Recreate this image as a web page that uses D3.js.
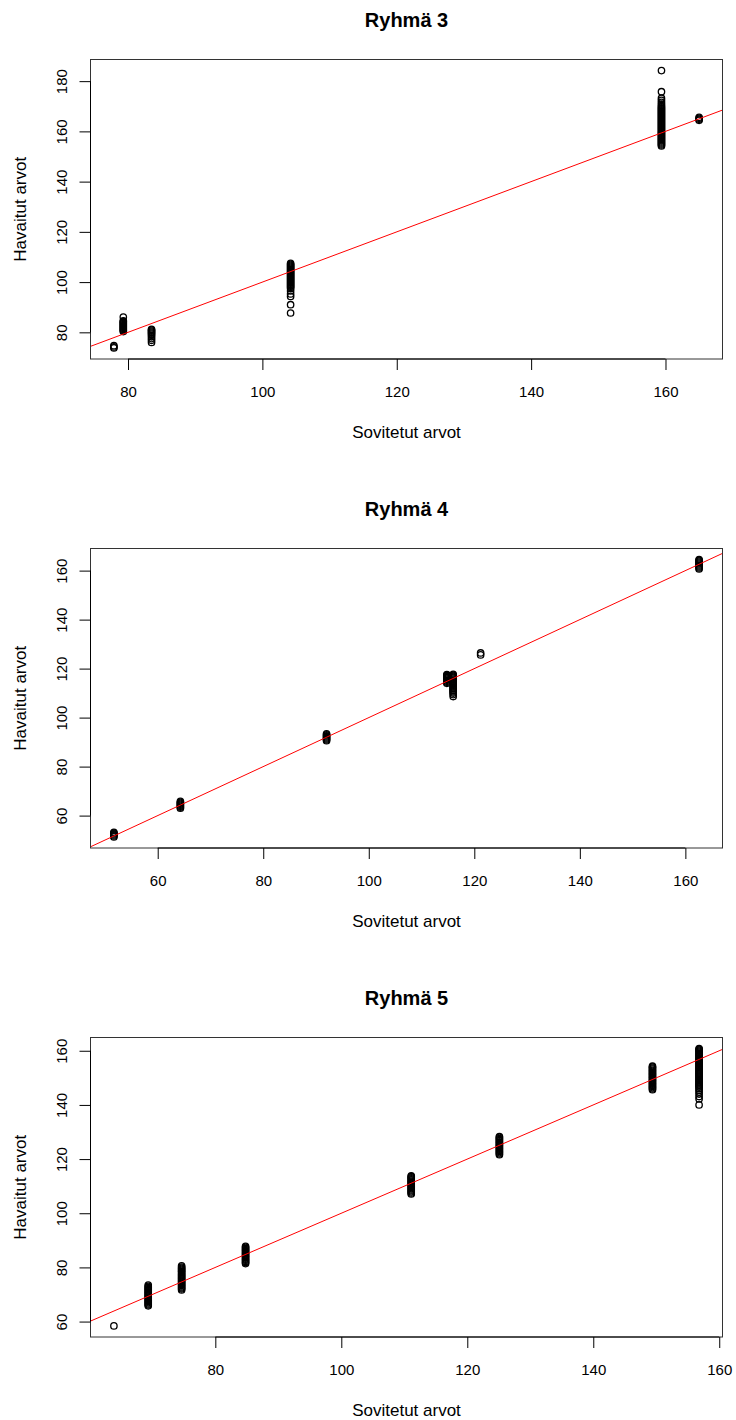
<!DOCTYPE html>
<html>
<head>
<meta charset="utf-8">
<script src="https://cdn.jsdelivr.net/npm/d3@7"></script>
<style>
  body { margin: 0; background: #fff; }
  svg { display: block; }
  text { font-family: "Liberation Sans", Arial, sans-serif; fill: #000; }
</style>
</head>
<body>
<svg id="chart" width="736" height="1420"></svg>
<script>
// Ryhmä 3
const g3Fitted = [77.9, 79.3, 83.5, 104.2, 159.4, 165.0];
const g3Observed = [
    [73.8, 74.2, 74.7],
    [80.3, 80.7, 81.1, 81.5, 81.9, 82.3, 82.7, 83.1, 83.5, 83.9, 84.3, 84.6, 86.1],
    [76.0, 76.8, 77.5, 78.2, 78.8, 79.3, 79.7, 80.1, 80.5, 80.9, 81.2],
    [87.7, 91.0, 94.3, 95.3, 96.5, 97.5, 97.9, 98.3, 98.7, 99.1, 99.5, 99.9, 100.3, 100.7, 101.1, 101.5, 101.9, 102.3, 102.7, 103.1, 103.5, 103.9, 104.3, 104.7, 105.1, 105.5, 105.9, 106.3, 106.7, 107.1, 107.5],
    [154.2, 154.6, 155.0, 155.4, 155.8, 156.2, 156.6, 157.0, 157.4, 157.8, 158.2, 158.6, 159.0, 159.4, 159.8, 160.2, 160.6, 161.0, 161.4, 161.8, 162.2, 162.6, 163.0, 163.4, 163.8, 164.2, 164.6, 165.0, 165.4, 165.8, 166.2, 166.6, 167.0, 167.4, 167.8, 168.2, 168.6, 169.0, 169.4, 169.8, 170.3, 170.9, 171.6, 172.4, 173.2, 175.8, 184.2],
    [164.4, 164.8, 165.2, 165.6]
];
const g3XTicks = [80, 100, 120, 140, 160];
const g3YTicks = [80, 100, 120, 140, 160, 180];

// Ryhmä 4
const g4Fitted = [51.7, 64.3, 92.0, 114.8, 116.0, 121.2, 162.6];
const g4Observed = [
    [51.3, 51.7, 52.1, 52.5, 52.9, 53.2],
    [63.0, 63.4, 63.8, 64.2, 64.6, 65.0, 65.4, 65.8],
    [90.6, 91.0, 91.4, 91.8, 92.2, 92.6, 93.0, 93.4],
    [114.0, 114.4, 114.8, 115.2, 115.6, 116.0, 116.4, 116.8, 117.2, 117.6],
    [108.6, 109.4, 110.0, 110.5, 110.9, 111.3, 111.7, 112.1, 112.5, 112.9, 113.3, 113.7, 114.1, 114.5, 114.9, 115.3, 115.7, 116.1, 116.5, 116.9, 117.3, 117.7],
    [125.6, 126.4],
    [160.7, 161.1, 161.5, 161.9, 162.3, 162.7, 163.1, 163.5, 163.9, 164.2, 164.5]
];
const g4XTicks = [60, 80, 100, 120, 140, 160];
const g4YTicks = [60, 80, 100, 120, 140, 160];

// Ryhmä 5
const g5Fitted = [63.9, 69.35, 74.65, 84.8, 111.1, 125.1, 149.4, 156.8];
const g5Observed = [
    [58.4],
    [65.8, 66.2, 66.6, 67.0, 67.4, 67.8, 68.2, 68.6, 69.0, 69.4, 69.8, 70.2, 70.6, 71.0, 71.4, 71.8, 72.2, 72.6, 73.0, 73.5],
    [71.7, 72.1, 72.5, 72.9, 73.3, 73.7, 74.1, 74.5, 74.9, 75.3, 75.7, 76.1, 76.5, 76.9, 77.3, 77.7, 78.1, 78.5, 78.9, 79.3, 79.7, 80.1, 80.6],
    [81.4, 81.8, 82.2, 82.6, 83.0, 83.4, 83.8, 84.2, 84.6, 85.0, 85.4, 85.8, 86.2, 86.6, 87.0, 87.4, 87.8],
    [107.1, 107.5, 107.9, 108.3, 108.7, 109.1, 109.5, 109.9, 110.3, 110.7, 111.1, 111.5, 111.9, 112.3, 112.7, 113.1, 113.5, 113.8],
    [121.6, 122.0, 122.4, 122.8, 123.2, 123.6, 124.0, 124.4, 124.8, 125.2, 125.6, 126.0, 126.4, 126.8, 127.2, 127.6, 128.0, 128.3],
    [145.6, 146.0, 146.4, 146.8, 147.2, 147.6, 148.0, 148.4, 148.8, 149.2, 149.6, 150.0, 150.4, 150.8, 151.2, 151.6, 152.0, 152.4, 152.8, 153.2, 153.6, 154.0, 154.3],
    [140.0, 142.2, 143.1, 144.0, 144.8, 145.5, 146.1, 146.6, 147.0, 147.4, 147.8, 148.2, 148.6, 149.0, 149.4, 149.8, 150.2, 150.6, 151.0, 151.4, 151.8, 152.2, 152.6, 153.0, 153.4, 153.8, 154.2, 154.6, 155.0, 155.4, 155.8, 156.2, 156.6, 157.0, 157.4, 157.8, 158.2, 158.6, 159.0, 159.4, 159.8, 160.2, 160.5, 160.8]
];
const g5XTicks = [80, 100, 120, 140, 160];
const g5YTicks = [60, 80, 100, 120, 140, 160];

const panels = [
    { title: 'Ryhmä 3', fitted: g3Fitted, observed: g3Observed, xTicks: g3XTicks, yTicks: g3YTicks, top: 59.5 },
    { title: 'Ryhmä 4', fitted: g4Fitted, observed: g4Observed, xTicks: g4XTicks, yTicks: g4YTicks, top: 548.5 },
    { title: 'Ryhmä 5', fitted: g5Fitted, observed: g5Observed, xTicks: g5XTicks, yTicks: g5YTicks, top: 1037.5 }
];

const svg = d3.select('#chart');
const left = 90.5;
const plotWidth = 632;
const plotHeight = 299.5;
const tickLen = 11;

// R:n tapaan 4 % lisätilaa kummallekin puolelle
function padded(ext) {
    const w = ext[1] - ext[0];
    return [ext[0] - 0.04 * w, ext[1] + 0.04 * w];
}

function drawPanel(p, idx) {
    const pts = [];
    p.fitted.forEach((f, i) => p.observed[i].forEach(o => pts.push([f, o])));

    const x = d3.scaleLinear().domain(padded(d3.extent(pts, d => d[0]))).range([0, plotWidth]);
    const y = d3.scaleLinear().domain(padded(d3.extent(pts, d => d[1]))).range([plotHeight, 0]);

    const g = svg.append('g').attr('transform', `translate(${left},${p.top})`);

    g.append('clipPath').attr('id', 'clip' + idx)
        .append('rect').attr('width', plotWidth).attr('height', plotHeight);

    // pisteet
    g.selectAll('circle')
        .data(pts)
        .enter()
        .append('circle')
        .attr('cx', d => x(d[0]))
        .attr('cy', d => y(d[1]))
        .attr('r', 3.2)
        .attr('fill', 'none')
        .attr('stroke', '#000')
        .attr('stroke-width', 1.3);

    // y = x suora
    const dom = x.domain();
    g.append('line')
        .attr('clip-path', `url(#clip${idx})`)
        .attr('x1', x(dom[0] - 50)).attr('y1', y(dom[0] - 50))
        .attr('x2', x(dom[1] + 50)).attr('y2', y(dom[1] + 50))
        .attr('stroke', '#ff0000')
        .attr('stroke-width', 1);

    // laatikko
    g.append('rect')
        .attr('width', plotWidth).attr('height', plotHeight)
        .attr('fill', 'none').attr('stroke', '#333').attr('stroke-width', 1);

    // x-akseli
    const xa = g.append('g').attr('transform', `translate(0,${plotHeight})`)
        .call(d3.axisBottom(x).tickValues(p.xTicks).tickSize(tickLen).tickFormat(d3.format('d')));
    xa.select('.domain').remove();
    xa.append('line')
        .attr('x1', x(p.xTicks[0])).attr('x2', x(p.xTicks[p.xTicks.length - 1]))
        .attr('stroke', '#000');
    xa.selectAll('.tick line').attr('stroke', '#000');
    xa.selectAll('.tick text')
        .attr('y', 38).attr('dy', 0)
        .style('font-size', '15px').style('font-family', '"Liberation Sans", Arial, sans-serif');

    // y-akseli
    const ya = g.append('g')
        .call(d3.axisLeft(y).tickValues(p.yTicks).tickSize(tickLen).tickFormat(d3.format('d')));
    ya.select('.domain').remove();
    ya.append('line')
        .attr('y1', y(p.yTicks[0])).attr('y2', y(p.yTicks[p.yTicks.length - 1]))
        .attr('stroke', '#000');
    ya.selectAll('.tick line').attr('stroke', '#000');
    ya.selectAll('.tick text')
        .attr('transform', 'rotate(-90)')
        .attr('x', 0).attr('y', -23.5).attr('dy', 0)
        .attr('text-anchor', 'middle')
        .style('font-size', '15px').style('font-family', '"Liberation Sans", Arial, sans-serif');

    // otsikot
    g.append('text')
        .attr('x', plotWidth / 2).attr('y', -33)
        .attr('text-anchor', 'middle')
        .style('font-size', '20px').style('font-weight', 'bold')
        .text(p.title);

    g.append('text')
        .attr('x', plotWidth / 2).attr('y', plotHeight + 79)
        .attr('text-anchor', 'middle')
        .style('font-size', '17px')
        .text('Sovitetut arvot');

    g.append('text')
        .attr('transform', `translate(${26 - left},${plotHeight / 2}) rotate(-90)`)
        .attr('text-anchor', 'middle')
        .style('font-size', '17px')
        .text('Havaitut arvot');
}

panels.forEach(drawPanel);
</script>
</body>
</html>
